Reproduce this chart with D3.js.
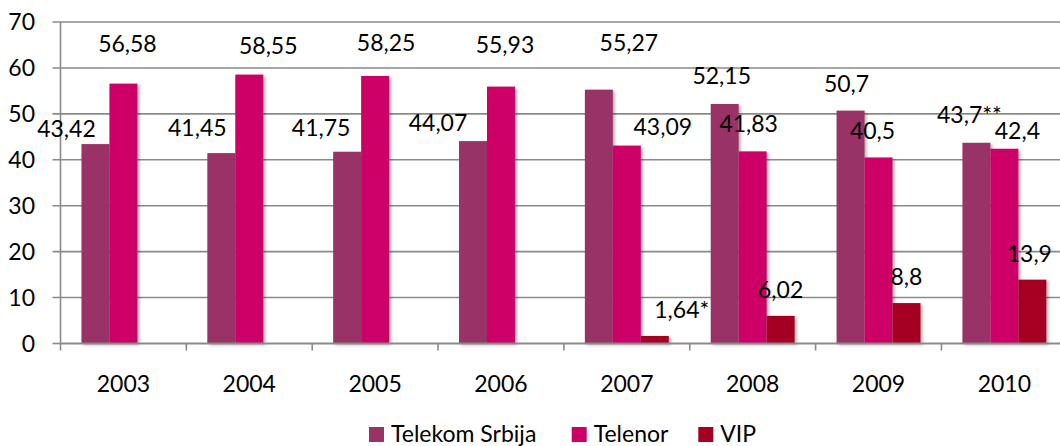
<!DOCTYPE html>
<html>
<head>
<meta charset="utf-8">
<script src="https://cdn.jsdelivr.net/npm/d3@7"></script>
<style>
  body { margin: 0; background: #fff; }
  svg { display: block; font-family: Lato, "Open Sans", sans-serif; }
</style>
</head>
<body>
<div id="chart"></div>
<script>
// data
const years = ["2003", "2004", "2005", "2006", "2007", "2008", "2009", "2010"]
const telekom = [43.42, 41.45, 41.75, 44.07, 55.27, 52.15, 50.7, 43.7]
const telenor = [56.58, 58.55, 58.25, 55.93, 43.09, 41.83, 40.5, 42.4]
const vip = [null, null, null, null, 1.64, 6.02, 8.8, 13.9]
const telekomLabels = ["43,42", "41,45", "41,75", "44,07", "55,27", "52,15", "50,7", "43,7**"]
const telenorLabels = ["56,58", "58,55", "58,25", "55,93", "43,09", "41,83", "40,5", "42,4"]
const vipLabels = ["", "", "", "", "1,64*", "6,02", "8,8", "13,9"]
const seriesNames = ["Telekom Srbija", "Telenor", "VIP"]
const yTicks = [0, 10, 20, 30, 40, 50, 60, 70]

const colors = ["#993366", "#CC0066", "#A50021"]
const fontSize = "23px"

// hand placed label offsets (px, from bar top centre), as in the original
const labelOffsets = [
    [[-29, -7], [-24, -17], [-26, -16], [-35, -10], [30, -39], [-3, -20], [-4, -19], [-7, -20]],
    [[4, -32], [19, -21], [11, -25], [4, -34], [36, -11], [-4, -19], [-6, -18], [13, -10]],
    [[0, 0], [0, 0], [0, 0], [0, 0], [27, -18], [0, -18], [0, -18], [-3, -18]]
]

const W = 1060, H = 446
const margin = { top: 22, left: 60.5, bottom: 102.5 }
const plotRight = 60.5 + 125.85 * 8

const svg = d3.select("#chart").append("svg")
    .attr("width", W)
    .attr("height", H)

const defs = svg.append("defs")
const shadow = defs.append("filter").attr("id", "shadow")
    .attr("x", "-20%").attr("y", "-20%").attr("width", "150%").attr("height", "140%")
shadow.append("feDropShadow")
    .attr("dx", 2).attr("dy", 1.5).attr("stdDeviation", 1.5)
    .attr("flood-color", "#000").attr("flood-opacity", 0.3)

const x = d3.scaleBand()
    .domain(years)
    .range([margin.left, plotRight])
    .paddingInner(0)
    .paddingOuter(0)

const x1 = d3.scaleBand()
    .domain([0, 1, 2])
    .range([0, x.bandwidth()])
    .paddingOuter(0.75)
    .paddingInner(0)

const y = d3.scaleLinear()
    .domain([0, 70])
    .range([H - margin.bottom, margin.top])

// gridlines
svg.append("g")
    .selectAll("line")
    .data(yTicks.filter(d => d > 0))
    .join("line")
    .attr("x1", margin.left - 8)
    .attr("x2", W)
    .attr("y1", d => y(d))
    .attr("y2", d => y(d))
    .attr("stroke", "#8a8a8a")
    .attr("stroke-width", 1.6)

// y axis line + tick
svg.append("line")
    .attr("x1", margin.left).attr("x2", margin.left)
    .attr("y1", y(70)).attr("y2", y(0))
    .attr("stroke", "#8a8a8a").attr("stroke-width", 1.6)
svg.append("line")
    .attr("x1", margin.left - 8).attr("x2", margin.left)
    .attr("y1", y(0)).attr("y2", y(0))
    .attr("stroke", "#8a8a8a").attr("stroke-width", 1.6)

svg.append("g")
    .selectAll("text")
    .data(yTicks)
    .join("text")
    .attr("x", 35)
    .attr("y", d => y(d))
    .attr("dy", "0.36em")
    .attr("text-anchor", "end")
    .style("font-size", fontSize)
    .text(d => d)

// bars
const series = [telekom, telenor, vip]
const labels = [telekomLabels, telenorLabels, vipLabels]

series.forEach(function (vals, s) {
    const g = svg.append("g").attr("filter", "url(#shadow)")
    g.selectAll("rect")
        .data(vals.map((v, i) => ({ year: years[i], v: v })).filter(d => d.v != null))
        .join("rect")
        .attr("x", d => x(d.year) + x1(s))
        .attr("width", x1.bandwidth())
        .attr("y", d => y(d.v))
        .attr("height", d => y(0) - y(d.v))
        .attr("fill", colors[s])
})

// x axis
svg.append("line")
    .attr("x1", margin.left).attr("x2", W)
    .attr("y1", y(0)).attr("y2", y(0))
    .attr("stroke", "#8a8a8a").attr("stroke-width", 2)

svg.append("g")
    .selectAll("line")
    .data(d3.range(years.length + 1))
    .join("line")
    .attr("x1", i => margin.left + i * x.bandwidth())
    .attr("x2", i => margin.left + i * x.bandwidth())
    .attr("y1", y(0))
    .attr("y2", y(0) + 7)
    .attr("stroke", "#8a8a8a").attr("stroke-width", 1.6)

svg.append("g")
    .selectAll("text")
    .data(years)
    .join("text")
    .attr("x", d => x(d) + x.bandwidth() / 2)
    .attr("y", 392)
    .attr("text-anchor", "middle")
    .style("font-size", fontSize)
    .text(d => d)

// data labels
series.forEach(function (vals, s) {
    svg.append("g")
        .selectAll("text")
        .data(vals.map((v, i) => ({ i: i, v: v })).filter(d => d.v != null))
        .join("text")
        .attr("x", d => x(years[d.i]) + x1(s) + x1.bandwidth() / 2 + labelOffsets[s][d.i][0])
        .attr("y", d => y(d.v) + labelOffsets[s][d.i][1])
        .attr("text-anchor", "middle")
        .style("font-size", fontSize)
        .text(d => labels[s][d.i])
})

// legend
const legendX = [369, 571.7, 698.3]
const legend = svg.append("g")
seriesNames.forEach(function (name, s) {
    legend.append("rect")
        .attr("x", legendX[s]).attr("y", 427)
        .attr("width", 15).attr("height", 15)
        .attr("fill", colors[s])
    legend.append("text")
        .attr("x", legendX[s] + 22)
        .attr("y", 441.5)
        .style("font-size", fontSize)
        .text(name)
})
</script>
</body>
</html>
